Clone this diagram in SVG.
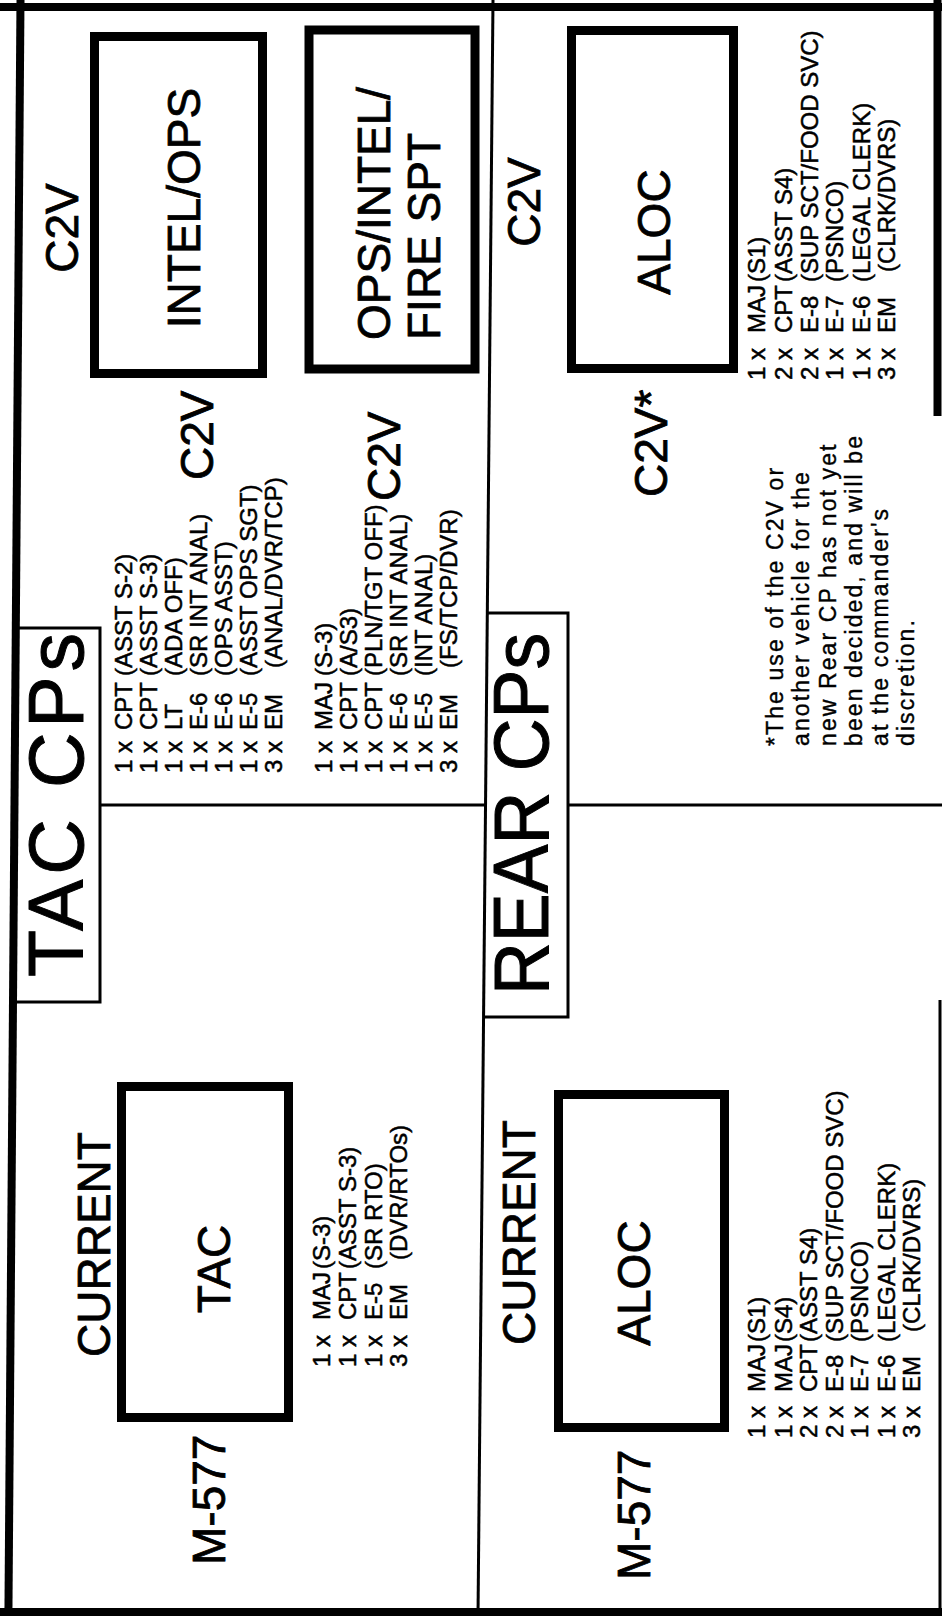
<svg xmlns="http://www.w3.org/2000/svg" width="942" height="1616" viewBox="0 0 942 1616">
<style>
text{font-family:"Liberation Sans",Arial,Helvetica,sans-serif;fill:#000;stroke:#000}
.big{font-size:46px;stroke-width:0.8px}
.title{font-size:77px;stroke-width:1px}
.list{font-size:24px;stroke-width:0.5px}
.note{font-size:23px;letter-spacing:2.1px;stroke-width:0.4px}
.mid{text-anchor:middle}
.box{fill:none;stroke:#000;stroke-width:9}
.thin{fill:none;stroke:#000;stroke-width:3}
.frame{fill:none;stroke:#000;stroke-width:8}
</style>
<rect width="942" height="1616" fill="#fff"/>
<g transform="translate(0,1616) rotate(-90)">
  <g id="frame">
    <line class="frame" x1="0" y1="8.4" x2="1616" y2="20.5"/>
    <line class="frame" x1="1609" y1="0" x2="1609" y2="942"/>
    <line class="frame" x1="4" y1="0" x2="4" y2="942"/>
    <line class="frame" x1="1200" y1="937.5" x2="1616" y2="937.5" stroke-width="9"/>
    <line class="thin" x1="0" y1="940" x2="616" y2="940"/>
    <line class="thin" x1="0" y1="478" x2="1616" y2="493"/>
    <line class="thin" x1="811" y1="100" x2="811" y2="486" stroke-width="4"/>
    <line class="thin" x1="811" y1="568" x2="811" y2="942" stroke-width="4"/>
  </g>
  <g id="connectors"></g>

  <g id="tac-title">
    <path class="thin" d="M614 14 L614 100 L988 100 L988 17"/>
    <text class="title" x="639" y="83" textLength="344" lengthAdjust="spacing">TAC CPs</text>
  </g>
  <g id="rear-title">
    <path class="thin" d="M599 483 L599 568 L1003 568 L1003 487"/>
    <text class="title" x="621" y="548" textLength="362" lengthAdjust="spacingAndGlyphs">REAR CPs</text>
  </g>

  <g id="tac-intel-ops">
    <text class="big mid" x="1388" y="78">C2V</text>
    <rect class="box" x="1242.5" y="94.5" width="337" height="168"/>
    <text class="big mid" x="1408" y="200" font-size="47">INTEL/OPS</text>
  </g>
  <g id="tac-intel-ops-crew">
    <text class="list" y="132"><tspan x="843">1 x</tspan><tspan x="886">CPT</tspan><tspan x="940">(ASST S-2)</tspan></text>
    <text class="list" y="157"><tspan x="843">1 x</tspan><tspan x="886">CPT</tspan><tspan x="940">(ASST S-3)</tspan></text>
    <text class="list" y="182"><tspan x="843">1 x</tspan><tspan x="886">LT</tspan><tspan x="940">(ADA OFF)</tspan></text>
    <text class="list" y="207"><tspan x="843">1 x</tspan><tspan x="886">E-6</tspan><tspan x="940">(SR INT ANAL)</tspan></text>
    <text class="list" y="232"><tspan x="843">1 x</tspan><tspan x="886">E-6</tspan><tspan x="940">(OPS ASST)</tspan></text>
    <text class="list" y="257"><tspan x="843">1 x</tspan><tspan x="886">E-5</tspan><tspan x="940">(ASST OPS SGT)</tspan></text>
    <text class="list" y="282"><tspan x="843">3 x</tspan><tspan x="886">EM</tspan><tspan x="948">(ANAL/DVR/TCP)</tspan></text>
    <text class="big" x="1136" y="213">C2V</text>
  </g>

  <g id="tac-ops-intel-fire">
    <rect class="box" x="1247" y="309" width="339" height="166" stroke-width="8"/>
    <text class="big" x="1276" y="390">OPS/INTEL/</text>
    <text class="big" x="1276" y="440">FIRE SPT</text>
  </g>
  <g id="tac-ops-intel-fire-crew">
    <text class="list" y="332"><tspan x="843">1 x</tspan><tspan x="886">MAJ</tspan><tspan x="940">(S-3)</tspan></text>
    <text class="list" y="357"><tspan x="843">1 x</tspan><tspan x="886">CPT</tspan><tspan x="940">(A/S3)</tspan></text>
    <text class="list" y="382"><tspan x="843">1 x</tspan><tspan x="886">CPT</tspan><tspan x="940">(PLN/TGT OFF)</tspan></text>
    <text class="list" y="407"><tspan x="843">1 x</tspan><tspan x="886">E-6</tspan><tspan x="940">(SR INT ANAL)</tspan></text>
    <text class="list" y="432"><tspan x="843">1 x</tspan><tspan x="886">E-5</tspan><tspan x="940">(INT ANAL)</tspan></text>
    <text class="list" y="457"><tspan x="843">3 x</tspan><tspan x="886">EM</tspan><tspan x="948">(FS/TCP/DVR)</tspan></text>
    <text class="big" x="1115" y="400">C2V</text>
  </g>

  <g id="tac-current">
    <text class="big" x="259" y="110" font-size="44">CURRENT</text>
    <rect class="box" x="198.5" y="121.5" width="331" height="167"/>
    <text class="big mid" x="347" y="230">TAC</text>
    <text class="big" x="51" y="225" font-size="45">M-577</text>
    <text class="list" y="330"><tspan x="249">1 x</tspan><tspan x="296">MAJ</tspan><tspan x="347">(S-3)</tspan></text>
    <text class="list" y="356"><tspan x="249">1 x</tspan><tspan x="296">CPT</tspan><tspan x="347">(ASST S-3)</tspan></text>
    <text class="list" y="382"><tspan x="249">1 x</tspan><tspan x="296">E-5</tspan><tspan x="347">(SR RTO)</tspan></text>
    <text class="list" y="407"><tspan x="249">3 x</tspan><tspan x="296">EM</tspan><tspan x="356">(DVR/RTOs)</tspan></text>
  </g>

  <g id="rear-aloc-new">
    <text class="big mid" x="1414" y="540">C2V</text>
    <rect class="box" x="1247.5" y="571.5" width="338" height="162" stroke-width="7"/>
    <text class="big mid" x="1384" y="670" font-size="44">ALOC</text>
    <text class="list" y="765"><tspan x="1236">1 x</tspan><tspan x="1283">MAJ</tspan><tspan x="1334">(S1)</tspan></text>
    <text class="list" y="792"><tspan x="1236">2 x</tspan><tspan x="1283">CPT</tspan><tspan x="1334">(ASST S4)</tspan></text>
    <text class="list" y="818"><tspan x="1236">2 x</tspan><tspan x="1283">E-8</tspan><tspan x="1334">(SUP SCT/FOOD SVC)</tspan></text>
    <text class="list" y="843"><tspan x="1236">1 x</tspan><tspan x="1283">E-7</tspan><tspan x="1334">(PSNCO)</tspan></text>
    <text class="list" y="870"><tspan x="1236">1 x</tspan><tspan x="1283">E-6</tspan><tspan x="1334">(LEGAL CLERK)</tspan></text>
    <text class="list" y="895"><tspan x="1236">3 x</tspan><tspan x="1283">EM</tspan><tspan x="1344">(CLRK/DVRS)</tspan></text>
  </g>

  <g id="rear-c2v-note">
    <text class="big" x="1119" y="667">C2V*</text>
    <text class="note" x="870" y="783">*The use of the C2V or</text>
    <text class="note" x="870" y="809">another vehicle for the</text>
    <text class="note" x="870" y="836">new Rear CP has not yet</text>
    <text class="note" x="870" y="862">been decided, and will be</text>
    <text class="note" x="870" y="888">at the commander's</text>
    <text class="note" x="870" y="914">discretion.</text>
  </g>

  <g id="rear-current">
    <text class="big" x="271" y="535" font-size="44">CURRENT</text>
    <rect class="box" x="188.5" y="558.5" width="333" height="166"/>
    <text class="big mid" x="333" y="650" font-size="44">ALOC</text>
    <text class="big" x="36" y="650" font-size="44">M-577</text>
    <text class="list" y="765"><tspan x="178">1 x</tspan><tspan x="224">MAJ</tspan><tspan x="274">(S1)</tspan></text>
    <text class="list" y="792"><tspan x="178">1 x</tspan><tspan x="224">MAJ</tspan><tspan x="274">(S4)</tspan></text>
    <text class="list" y="817"><tspan x="178">2 x</tspan><tspan x="224">CPT</tspan><tspan x="274">(ASST S4)</tspan></text>
    <text class="list" y="843"><tspan x="178">2 x</tspan><tspan x="224">E-8</tspan><tspan x="274">(SUP SCT/FOOD SVC)</tspan></text>
    <text class="list" y="868"><tspan x="178">1 x</tspan><tspan x="224">E-7</tspan><tspan x="274">(PSNCO)</tspan></text>
    <text class="list" y="895"><tspan x="178">1 x</tspan><tspan x="224">E-6</tspan><tspan x="274">(LEGAL CLERK)</tspan></text>
    <text class="list" y="920"><tspan x="178">3 x</tspan><tspan x="224">EM</tspan><tspan x="284">(CLRK/DVRS)</tspan></text>
  </g>
</g>
</svg>
